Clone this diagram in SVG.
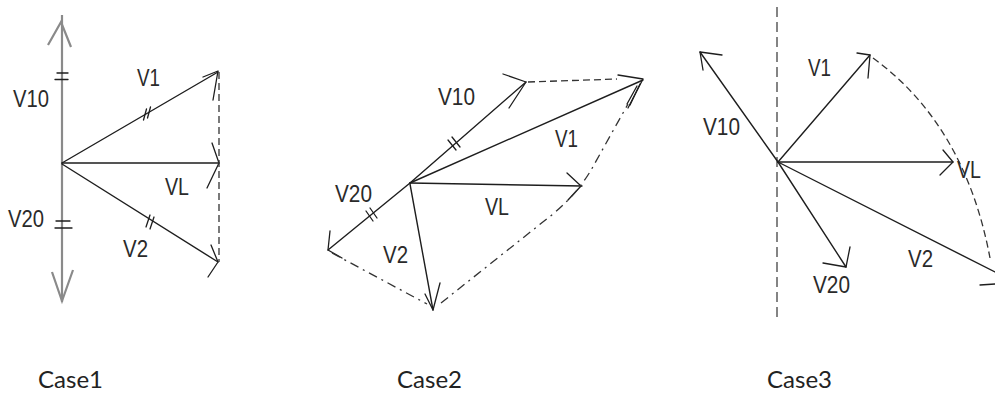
<svg xmlns="http://www.w3.org/2000/svg" width="995" height="394" viewBox="0 0 995 394">
<style>
.ln{stroke:#1e1e1e;stroke-width:1.4;fill:none;stroke-linecap:round}
.ax{stroke:#8a8a8a;stroke-width:2.2;fill:none}
.ah{stroke:#1e1e1e;stroke-width:1.3;fill:none;stroke-linecap:round;stroke-linejoin:round}
.dash{stroke:#333;stroke-width:1.3;fill:none;stroke-dasharray:7,4}
.dd{stroke:#333;stroke-width:1.3;fill:none;stroke-dasharray:9,5,2,5}
.lb{font-family:"Liberation Sans",Arial,sans-serif;font-size:24px;fill:#2a2a2a}
.cs{font-family:Lato,"Open Sans",sans-serif;font-size:23px;fill:#222}
</style>
<rect width="995" height="394" fill="#fff"/>
<g id="case1">
  <g id="c1-axis">
    <line class="ax" x1="62" y1="15" x2="62" y2="302"/>
    <polyline class="ax" points="48,45 61,22 71,47"/>
    <polyline class="ax" points="52,272 62,301 73,270"/>
    <line class="ah" x1="57" y1="73" x2="68" y2="73"/>
    <line class="ah" x1="55" y1="79.5" x2="68" y2="79.5"/>
    <line class="ah" x1="56" y1="221" x2="70" y2="221"/>
    <line class="ah" x1="55" y1="228" x2="72" y2="228"/>
  </g>
  <g id="c1-connectors">
    <line class="ln" x1="62" y1="163" x2="218" y2="72"/>
    <polyline class="ah" points="203,77 218,71 213,100"/>
    <line class="ah" x1="143.5" y1="120" x2="146.5" y2="109"/>
    <line class="ah" x1="147.5" y1="118" x2="150.5" y2="107"/>
    <line class="ln" x1="62" y1="163" x2="219" y2="163"/>
    <polyline class="ah" points="212,143 219,163 207,188"/>
    <line class="ln" x1="62" y1="164" x2="218" y2="262"/>
    <polyline class="ah" points="211,245 218,262 208,277"/>
    <line class="ah" x1="146" y1="227" x2="150" y2="215"/>
    <line class="ah" x1="150" y1="229" x2="154" y2="217"/>
    <line class="dash" x1="219" y1="72" x2="219" y2="262"/>
  </g>
  <text class="lb" x="13" y="107" textLength="36" lengthAdjust="spacingAndGlyphs">V10</text>
  <text class="lb" x="137" y="86" textLength="23" lengthAdjust="spacingAndGlyphs">V1</text>
  <text class="lb" x="165" y="195" textLength="24" lengthAdjust="spacingAndGlyphs">VL</text>
  <text class="lb" x="8" y="227" textLength="36" lengthAdjust="spacingAndGlyphs">V20</text>
  <text class="lb" x="123" y="257" textLength="25" lengthAdjust="spacingAndGlyphs">V2</text>
  <text class="cs" x="38" y="388" textLength="65" lengthAdjust="spacingAndGlyphs">Case1</text>
</g>
<g id="case2">
  <g id="c2-connectors">
    <line class="ln" x1="410" y1="183" x2="526" y2="82"/>
    <polyline class="ah" points="503,74 526,82 509,108"/>
    <line class="ln" x1="410" y1="183" x2="328" y2="250"/>
    <polyline class="ah" points="330,231 328,250 342,258"/>
    <line class="ah" x1="448" y1="140" x2="456" y2="150"/>
    <line class="ah" x1="452" y1="137" x2="460" y2="147"/>
    <line class="ah" x1="366" y1="211" x2="373" y2="221"/>
    <line class="ah" x1="370" y1="208" x2="377" y2="218"/>
    <line class="ln" x1="410" y1="183" x2="643" y2="80"/>
    <polyline class="ah" points="618,75 643,79 628,108"/>
    <line class="ah" x1="640" y1="84" x2="630" y2="105"/>
    <line class="ah" x1="637" y1="86" x2="627" y2="104"/>
    <line class="dash" x1="528" y1="82" x2="617" y2="79"/>
    <line class="ln" x1="410" y1="183" x2="582" y2="186"/>
    <polyline class="ah" points="567,173 581,186 568,200"/>
    <line class="ln" x1="410" y1="184" x2="433" y2="310"/>
    <polyline class="ah" points="425,294 433,310 440,283"/>
    <line class="dd" x1="332" y1="253" x2="427" y2="304"/>
    <path class="dd" d="M441,303 L553,214 C572,198 585,182 595,163 L628,104"/>
  </g>
  <text class="lb" x="438" y="105" textLength="37" lengthAdjust="spacingAndGlyphs">V10</text>
  <text class="lb" x="555" y="147" textLength="23" lengthAdjust="spacingAndGlyphs">V1</text>
  <text class="lb" x="485" y="215" textLength="24" lengthAdjust="spacingAndGlyphs">VL</text>
  <text class="lb" x="335" y="202" textLength="37" lengthAdjust="spacingAndGlyphs">V20</text>
  <text class="lb" x="383" y="263" textLength="25" lengthAdjust="spacingAndGlyphs">V2</text>
  <text class="cs" x="397" y="388" textLength="65" lengthAdjust="spacingAndGlyphs">Case2</text>
</g>
<g id="case3">
  <g id="c3-connectors">
    <line x1="777" y1="7" x2="777" y2="322" stroke="#666" stroke-width="1.6" stroke-dasharray="10,5"/>
    <line class="ln" x1="778" y1="162" x2="700" y2="52"/>
    <polyline class="ah" points="722,55 700,52 703,70"/>
    <line class="ln" x1="778" y1="162" x2="870" y2="55"/>
    <polyline class="ah" points="857,53 870,55 868,78"/>
    <path class="dash" d="M873,58 Q965,125 990,258" stroke-dasharray="9,6"/>
    <line class="ln" x1="778" y1="162" x2="953" y2="162"/>
    <polyline class="ah" points="943,150 953,162 940,175"/>
    <line class="ln" x1="778" y1="162" x2="995" y2="272"/>
    <line class="ah" x1="980" y1="285" x2="995" y2="284"/>
    <line class="ln" x1="778" y1="162" x2="846" y2="267"/>
    <polyline class="ah" points="850,247 846,267 823,263"/>
  </g>
  <text class="lb" x="808" y="76" textLength="23" lengthAdjust="spacingAndGlyphs">V1</text>
  <text class="lb" x="703" y="135" textLength="37" lengthAdjust="spacingAndGlyphs">V10</text>
  <text class="lb" x="957" y="178" textLength="24" lengthAdjust="spacingAndGlyphs">VL</text>
  <text class="lb" x="908" y="267" textLength="25" lengthAdjust="spacingAndGlyphs">V2</text>
  <text class="lb" x="813" y="293" textLength="37" lengthAdjust="spacingAndGlyphs">V20</text>
  <text class="cs" x="767" y="388" textLength="65" lengthAdjust="spacingAndGlyphs">Case3</text>
</g>
</svg>
